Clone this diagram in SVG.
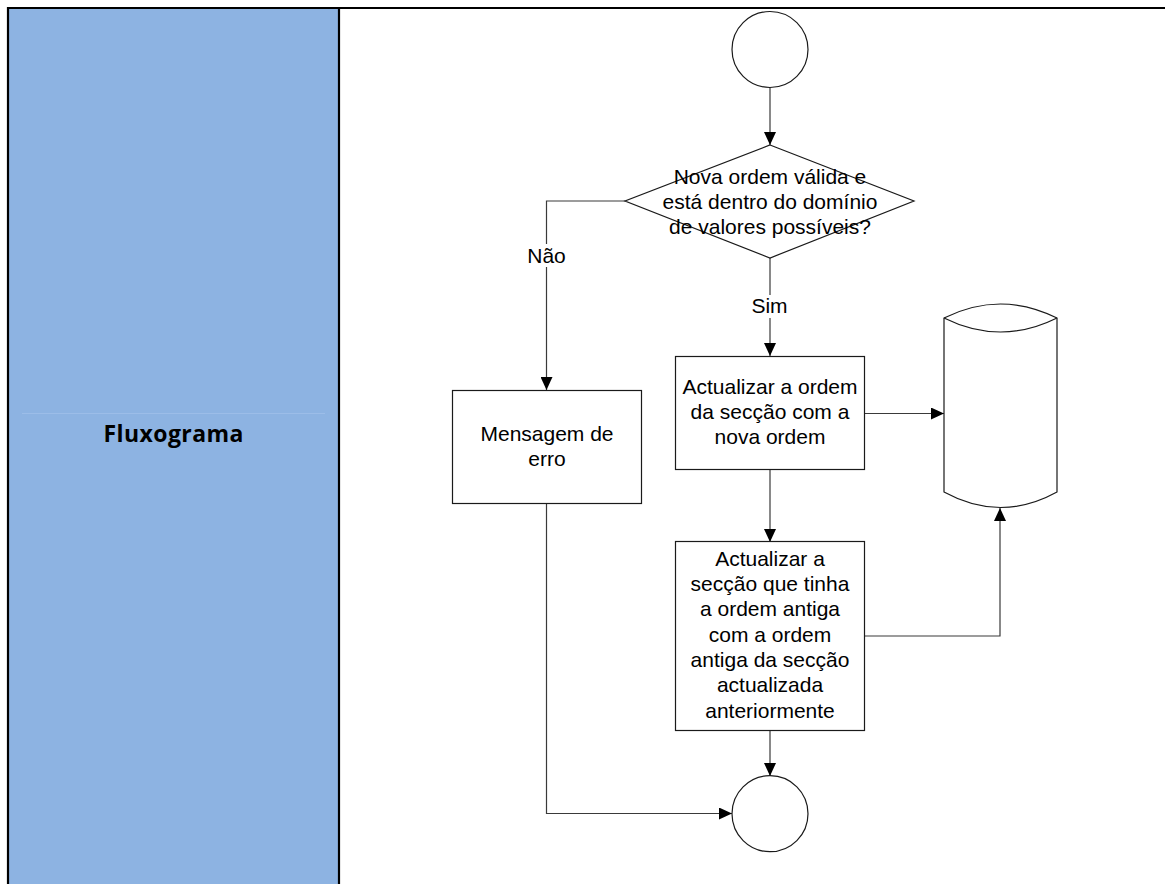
<svg xmlns="http://www.w3.org/2000/svg" width="1165" height="884" viewBox="0 0 1165 884">
<style>
.shape{fill:#fff;stroke:#1a1a1a;stroke-width:1.2}
.conn{fill:none;stroke:#3a3a3a;stroke-width:1.2}
.t{font-family:"Liberation Sans",Arial,sans-serif;font-size:21px;fill:#000;text-anchor:middle}
.lbl{font-family:"Liberation Sans",Arial,sans-serif;font-size:21px;fill:#000;text-anchor:middle}
.head{font-family:"Open Sans",Lato,sans-serif;font-size:23px;font-weight:bold;fill:#000;text-anchor:middle}
</style>
<defs>
<marker id="arr" markerUnits="userSpaceOnUse" markerWidth="13" markerHeight="12" refX="13" refY="6" orient="auto">
<path d="M0,0 L13,6 L0,12 z" fill="#000"/>
</marker>
</defs>
<rect x="0" y="0" width="1165" height="884" fill="#fff"/>
<g id="table">
<rect x="9" y="9" width="330" height="875" fill="#8DB3E2"/>
<line x1="22" y1="413.5" x2="325" y2="413.5" stroke="#9cbde8" stroke-width="1"/>
<line x1="7" y1="8" x2="1165" y2="8" stroke="#000" stroke-width="2.2"/>
<line x1="8" y1="7" x2="8" y2="884" stroke="#000" stroke-width="2.2"/>
<line x1="339" y1="7" x2="339" y2="884" stroke="#000" stroke-width="2.2"/>
<text class="head" x="173.5" y="441.5" textLength="140" lengthAdjust="spacing">Fluxograma</text>
</g>
<g id="connectors">
<line class="conn" x1="770" y1="88" x2="770" y2="145" marker-end="url(#arr)"/>
<polyline class="conn" points="625,201 546.5,201 546.5,390" marker-end="url(#arr)"/>
<line class="conn" x1="770" y1="258" x2="770" y2="356" marker-end="url(#arr)"/>
<line class="conn" x1="864" y1="413.5" x2="944" y2="413.5" marker-end="url(#arr)"/>
<line class="conn" x1="770" y1="469" x2="770" y2="542" marker-end="url(#arr)"/>
<polyline class="conn" points="864,636 1000,636 1000,508" marker-end="url(#arr)"/>
<line class="conn" x1="770" y1="730" x2="770" y2="776" marker-end="url(#arr)"/>
<polyline class="conn" points="546.5,504 546.5,813.5 732,813.5" marker-end="url(#arr)"/>
<rect x="524" y="244" width="45" height="23" fill="#fff"/>
<text class="lbl" x="546.5" y="263">Não</text>
<rect x="748" y="295" width="44" height="23" fill="#fff"/>
<text class="lbl" x="769.5" y="312.5">Sim</text>
</g>
<g id="start">
<circle class="shape" cx="770" cy="49.5" r="38"/>
</g>
<g id="decision">
<polygon class="shape" points="770,145 914,201 770,258 625,201"/>
<text class="t" x="770" y="184">Nova ordem válida e</text>
<text class="t" x="770" y="209">está dentro do domínio</text>
<text class="t" x="770" y="234">de valores possíveis?</text>
</g>
<g id="erro">
<rect class="shape" x="452.5" y="390.5" width="189" height="113"/>
<text class="t" x="547" y="440.5">Mensagem de</text>
<text class="t" x="547" y="465.5">erro</text>
</g>
<g id="update1">
<rect class="shape" x="675.5" y="356.5" width="189" height="113"/>
<text class="t" x="770" y="393.5">Actualizar a ordem</text>
<text class="t" x="770" y="418.5">da secção com a</text>
<text class="t" x="770" y="443.5">nova ordem</text>
</g>
<g id="update2">
<rect class="shape" x="675.5" y="541.5" width="189" height="189"/>
<text class="t" x="770" y="565.5">Actualizar a</text>
<text class="t" x="770" y="591">secção que tinha</text>
<text class="t" x="770" y="616.3">a ordem antiga</text>
<text class="t" x="770" y="641.6">com a ordem</text>
<text class="t" x="770" y="667">antiga da secção</text>
<text class="t" x="770" y="692.3">actualizada</text>
<text class="t" x="770" y="717.6">anteriormente</text>
</g>
<g id="database">
<path class="shape" d="M944,318 Q1000.5,290 1057,318 L1057,492 Q1000.5,523 944,492 Z"/>
<path class="shape" fill="none" d="M944,318 Q1000.5,346 1057,318"/>
</g>
<g id="end">
<circle class="shape" cx="770" cy="813.7" r="38"/>
</g>
</svg>
